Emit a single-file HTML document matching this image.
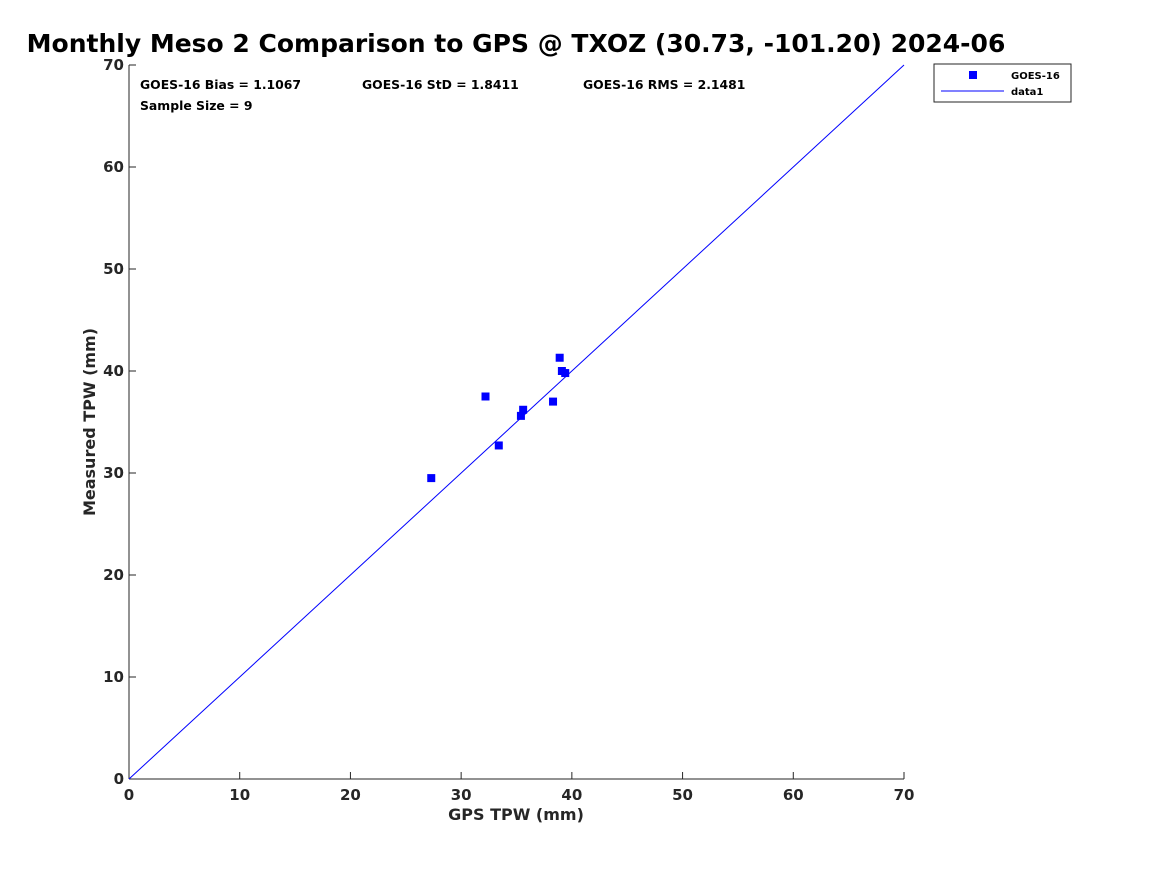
<!DOCTYPE html>
<html><head><meta charset="utf-8"><style>
body{margin:0;background:#fff;width:1167px;height:875px;overflow:hidden;font-family:"DejaVu Sans","Liberation Sans",sans-serif;}
svg text{font-family:"DejaVu Sans","Liberation Sans",sans-serif;font-weight:bold;}
</style></head><body>
<svg id="chart" width="1167" height="875" xmlns="http://www.w3.org/2000/svg">
<text x="516" y="52" font-size="25" text-anchor="middle" fill="#000">Monthly Meso 2 Comparison to GPS @ TXOZ (30.73, -101.20) 2024-06</text>
<g id="axes"></g>
<g id="marks"></g>
<text x="140" y="89" font-size="12.4">GOES-16 Bias = 1.1067</text>
<text x="362" y="89" font-size="12.4">GOES-16 StD = 1.8411</text>
<text x="583" y="89" font-size="12.4">GOES-16 RMS = 2.1481</text>
<text x="140" y="110" font-size="12.4">Sample Size = 9</text>
<text x="516" y="820" font-size="16" text-anchor="middle" fill="#262626">GPS TPW (mm)</text>
<text transform="translate(95,422) rotate(-90)" font-size="16" text-anchor="middle" fill="#262626">Measured TPW (mm)</text>
<g>
<rect x="934" y="64" width="137" height="38" fill="#fff" stroke="#262626" stroke-width="1"/>
<rect x="969" y="71" width="8" height="8" fill="#0000ff"/>
<text x="1011" y="79" font-size="10">GOES-16</text>
<line x1="941" y1="91" x2="1004" y2="91" stroke="#0000ff" stroke-width="1"/>
<text x="1011" y="95" font-size="10">data1</text>
</g>
</svg>
<script>
const gpsTPW=[27.3,32.2,33.4,35.4,35.6,38.3,38.9,39.1,39.4];
const goesTPW=[29.5,37.5,32.7,35.6,36.2,37.0,41.3,40.0,39.8];
const ticks=[0,10,20,30,40,50,60,70];
const lineX=[0,70];
const X0=129,X1=904,Y0=779,Y1=65,MIN=0,MAX=70;
const sx=v=>X0+(v-MIN)/(MAX-MIN)*(X1-X0);
const sy=v=>Y0-(v-MIN)/(MAX-MIN)*(Y0-Y1);
const NS="http://www.w3.org/2000/svg";
const axes=document.getElementById('axes'),marks=document.getElementById('marks');
function mk(tag,attrs,parent){const e=document.createElementNS(NS,tag);for(const k in attrs)e.setAttribute(k,attrs[k]);parent.appendChild(e);return e;}
const xa=mk('line',{x1:X0,y1:Y0,x2:X1,y2:Y0,stroke:'#262626'},axes);


const ya=mk('line',{x1:X0,y1:Y0,x2:X0,y2:Y1,stroke:'#262626'},axes);


ticks.forEach(t=>{
 mk('line',{x1:sx(t),y1:Y0,x2:sx(t),y2:Y0-7,stroke:'#262626'},axes);
 mk('line',{x1:X0,y1:sy(t),x2:X0+7,y2:sy(t),stroke:'#262626'},axes);
 const tx=mk('text',{x:sx(t),y:Y0+21,'font-size':15,'text-anchor':'middle',fill:'#262626'},axes);tx.textContent=t;
 
 
 const ty=mk('text',{x:X0-5,y:sy(t)+5,'font-size':15,'text-anchor':'end',fill:'#262626'},axes);ty.textContent=t;
 
 
});
const ln=mk('line',{x1:sx(lineX[0]),y1:sy(lineX[0]),x2:sx(lineX[1]),y2:sy(lineX[1]),stroke:'#0000ff','stroke-width':1},marks);


gpsTPW.forEach((g,i)=>{
 const r=mk('rect',{x:sx(g)-4,y:sy(goesTPW[i])-4,width:8,height:8,fill:'#0000ff'},marks);
 
 
});
</script>
</body></html>
